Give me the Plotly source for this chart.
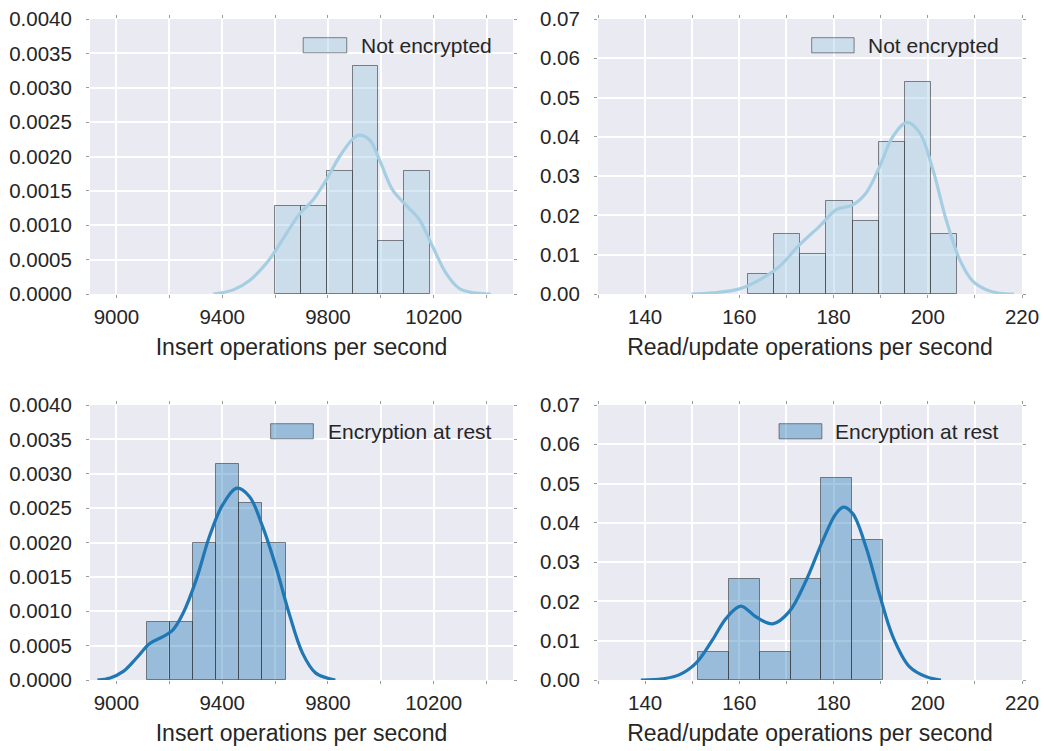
import plotly.graph_objects as go

# ---------------- data ----------------
# Insert operations per second, not encrypted
ins_plain_edges = [9599, 9697, 9795, 9893, 9991, 10089, 10187]
ins_plain_dens = [0.00128, 0.00128, 0.00179, 0.00332, 0.00077, 0.00179]
ins_plain_kde_x = [9367, 9442, 9505, 9568, 9600, 9643, 9694, 9744, 9794, 9844, 9895, 9917,
                   9958, 9995, 10045, 10096, 10146, 10196, 10247, 10297, 10347, 10416]
ins_plain_kde_y = [0.0, 0.00006, 0.0002, 0.00045, 0.00062, 0.00088, 0.00117, 0.00137, 0.00166,
                   0.0020, 0.00226, 0.00231, 0.00224, 0.00195, 0.00151, 0.00129, 0.00108,
                   0.00069, 0.0003, 0.00008, 0.00002, 0.0]

# Read/update operations per second, not encrypted
rw_plain_edges = [161.8, 167.4, 172.9, 178.5, 184.1, 189.6, 195.2, 200.7, 206.3]
rw_plain_dens = [0.0051, 0.0153, 0.0102, 0.0236, 0.0185, 0.0388, 0.0540, 0.0153]
rw_plain_kde_x = [149.8, 154.4, 160.0, 164.3, 168.5, 172.8, 177.0, 180.6, 184.1, 186.9, 189.8,
                  192.6, 195.6, 198.3, 201.1, 203.9, 206.8, 209.6, 212.4, 215.2, 218.3]
rw_plain_kde_y = [0.0, 0.0003, 0.0013, 0.0036, 0.0070, 0.01255, 0.0172, 0.02145, 0.0227, 0.0257,
                  0.0325, 0.0401, 0.0437, 0.0410, 0.0316, 0.0189, 0.0087, 0.0032, 0.0011, 0.0002, 0.0]

# Insert operations per second, encryption at rest
ins_enc_edges = [9114, 9202, 9290, 9377, 9465, 9552, 9640]
ins_enc_dens = [0.00085, 0.00085, 0.00199, 0.00314, 0.00257, 0.00199]
ins_enc_kde_x = [8928, 8976, 9026, 9076, 9126, 9176, 9214, 9252, 9302, 9352, 9402, 9456,
                 9503, 9553, 9603, 9653, 9704, 9754, 9828]
ins_enc_kde_y = [0.0, 0.00003, 0.000125, 0.00032, 0.00053, 0.00063, 0.00073, 0.00097, 0.00146,
                 0.00209, 0.00255, 0.00279, 0.00267, 0.00223, 0.00165, 0.00097, 0.00039,
                 0.0001, 0.0]

# Read/update operations per second, encryption at rest
rw_enc_edges = [151.2, 157.7, 164.3, 170.9, 177.4, 184.0, 190.4]
rw_enc_dens = [0.0071, 0.0257, 0.0071, 0.0257, 0.0514, 0.0357]
rw_enc_kde_x = [139.1, 143.7, 147.2, 150.8, 154.3, 157.2, 160.3, 163.5, 167.1, 170.6, 174.2,
                177.7, 180.5, 182.1, 184.1, 186.9, 189.7, 192.6, 196.1, 199.7, 202.8]
rw_enc_kde_y = [0.0, 0.0003, 0.0013, 0.0043, 0.0102, 0.0157, 0.0188, 0.0161, 0.0143, 0.0174,
                0.0254, 0.0355, 0.0423, 0.0440, 0.0423, 0.0338, 0.0220, 0.0110, 0.0034,
                0.0008, 0.0]

insert_ticks = [9000, 9400, 9800, 10200]
rw_ticks = [140, 160, 180, 200, 220]
labels = ["Not encrypted", "Not encrypted", "Encryption at rest", "Encryption at rest"]
xtitles = ["Insert operations per second", "Read/update operations per second"]

# ---------------- style ----------------
LIGHT = "#a6cee3"
DARK = "#1f78b4"
FONT = "Liberation Sans, Arial, sans-serif"
TXT = "#262626"
BG = "#EAEAF2"
TICK_SIZE = 20.5
TITLE_SIZE = 23
LEG_SIZE = 21

fig = go.Figure()

panels = [
    (ins_plain_edges, ins_plain_dens, ins_plain_kde_x, ins_plain_kde_y, LIGHT, "rgba(166,206,227,0.45)", 1),
    (rw_plain_edges, rw_plain_dens, rw_plain_kde_x, rw_plain_kde_y, LIGHT, "rgba(166,206,227,0.45)", 2),
    (ins_enc_edges, ins_enc_dens, ins_enc_kde_x, ins_enc_kde_y, DARK, "rgba(31,120,180,0.4)", 3),
    (rw_enc_edges, rw_enc_dens, rw_enc_kde_x, rw_enc_kde_y, DARK, "rgba(31,120,180,0.4)", 4),
]

for edges, dens, kx, ky, lc, fc, k in panels:
    xa = "x" if k == 1 else f"x{k}"
    ya = "y" if k == 1 else f"y{k}"
    centers = [(edges[i] + edges[i + 1]) / 2 for i in range(len(dens))]
    widths = [edges[i + 1] - edges[i] for i in range(len(dens))]
    fig.add_trace(go.Bar(x=centers, y=dens, width=widths, xaxis=xa, yaxis=ya,
                         marker=dict(color=fc, line=dict(color="rgba(40,40,40,0.55)", width=1)),
                         showlegend=False, hoverinfo="skip"))
    fig.add_trace(go.Scatter(x=kx, y=ky, xaxis=xa, yaxis=ya, mode="lines",
                             line=dict(color=lc, width=3.2, shape="spline", smoothing=1.0),
                             showlegend=False, hoverinfo="skip"))

xdom = [[90 / 1044, 513 / 1044], [598 / 1044, 1022 / 1044]]
ydom = [[(751 - 294) / 751, (751 - 19) / 751], [(751 - 680) / 751, (751 - 405) / 751]]

common_x = dict(showgrid=True, gridcolor="white", gridwidth=1.5, zeroline=False, showline=False,
                ticks="outside", ticklen=3, tickcolor="#9a9a9a", mirror="ticks",
                tickfont=dict(size=TICK_SIZE, color=TXT, family=FONT), fixedrange=True,
                automargin=False, tickformat="d", ticklabelstandoff=1)
common_y = dict(showgrid=True, gridcolor="white", gridwidth=1.5, zeroline=False, showline=False,
                ticks="outside", ticklen=3, tickcolor="#9a9a9a", mirror="ticks",
                tickfont=dict(size=TICK_SIZE, color=TXT, family=FONT), fixedrange=True,
                ticklabelstandoff=10, automargin=False)

layout = {}
for k in range(1, 5):
    col = (k - 1) % 2
    row = (k - 1) // 2
    xk = "xaxis" if k == 1 else f"xaxis{k}"
    yk = "yaxis" if k == 1 else f"yaxis{k}"
    ya = "y" if k == 1 else f"y{k}"
    xa = "x" if k == 1 else f"x{k}"
    if col == 0:
        xspec = dict(range=[8900, 10500], tickmode="array", tickvals=insert_ticks,
                     minor=dict(dtick=200, tick0=9000, showgrid=True, gridcolor="white",
                                gridwidth=1.5, ticks="outside", ticklen=3, tickcolor="#9a9a9a"))
        yspec = dict(range=[0, 0.004], dtick=0.0005, tick0=0, tickformat=".4f")
    else:
        xspec = dict(range=[130, 220], tickmode="array", tickvals=rw_ticks,
                     minor=dict(dtick=10, tick0=130, showgrid=True, gridcolor="white",
                                gridwidth=1.5, ticks="outside", ticklen=3, tickcolor="#9a9a9a"))
        yspec = dict(range=[0, 0.07], dtick=0.01, tick0=0, tickformat=".2f")
    layout[xk] = dict(common_x, domain=xdom[col], anchor=ya,
                      title=dict(text=xtitles[col], font=dict(size=TITLE_SIZE, color=TXT, family=FONT),
                                 standoff=12),
                      **xspec)
    layout[yk] = dict(common_y, domain=ydom[row], anchor=xa, **yspec)

fig.update_layout(**layout)

# legends drawn per panel (patch + label)
shapes = []
annotations = []
leg = {
    1: ((0.504, 0.607), 0.955),
    2: ((0.504, 0.604), 0.950),
    3: ((0.427, 0.528), 0.955),
    4: ((0.427, 0.528), 0.950),
}
for k in range(1, 5):
    xa = "x" if k == 1 else f"x{k}"
    ya = "y" if k == 1 else f"y{k}"
    fc = panels[k - 1][5]
    (x0, x1), xt = leg[k]
    shapes.append(dict(type="rect", xref=f"{xa} domain", yref=f"{ya} domain",
                       x0=x0, x1=x1, y0=0.877, y1=0.932, fillcolor=fc,
                       line=dict(color="rgba(40,40,40,0.55)", width=1)))
    annotations.append(dict(text=labels[k - 1], xref=f"{xa} domain", yref=f"{ya} domain",
                            x=xt, y=0.9045, xanchor="right", yanchor="middle", showarrow=False,
                            font=dict(size=LEG_SIZE, color=TXT, family=FONT)))

fig.update_layout(
    width=1044, height=751,
    margin=dict(l=0, r=0, t=0, b=0),
    paper_bgcolor="white", plot_bgcolor=BG,
    shapes=shapes, annotations=annotations,
    showlegend=False, bargap=0,
    font=dict(family=FONT, color=TXT, size=20),
)

fig.write_html("out.html", config={"displayModeBar": False})
